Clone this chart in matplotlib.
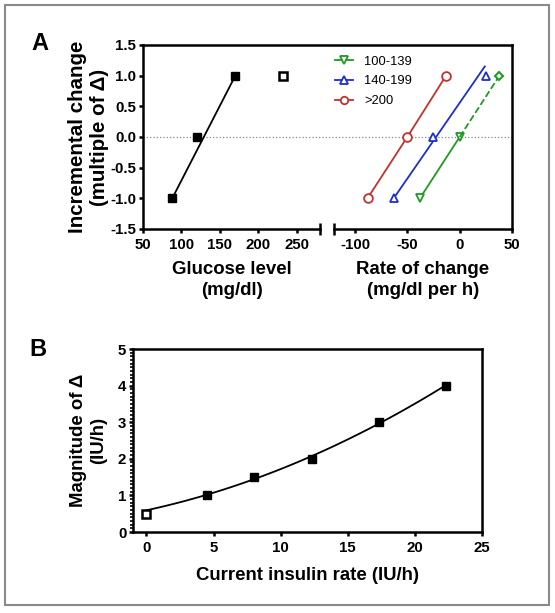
import matplotlib.pyplot as plt
from matplotlib.patches import Rectangle
import numpy as np

plt.rcParams['font.family'] = ['Liberation Sans', 'DejaVu Sans']
plt.rcParams['axes.unicode_minus'] = False

# Panel A, left: glucose level
glucose = [88, 120, 170]
glucose_y = [-1, 0, 1]
glucose_fit_x = [88, 170]
glucose_fit_y = [-1, 1]
glucose_open = [232]
glucose_open_y = [1]

# Panel A, right: rate of change by glucose band
levels = [-1, 0, 1]
rate_100 = [-38, 0]
rate_100_y = [-1, 0]
rate_100_ext = [0, 38]
rate_100_ext_y = [0, 1]
rate_140 = [-63, -25, 25]
rate_140_fit_x = [-63, 24]
rate_140_fit_y = [-1, 1.15]
rate_200 = [-88, -50, -13]

# Panel B: magnitude of delta vs current insulin rate
insulin = [4.5, 8, 12.3, 17.3, 22.3]
magnitude = [1, 1.5, 2, 3, 4]
insulin_open = [0]
magnitude_open = [0.5]

c_green = '#1f9a22'
c_blue = '#1c2fd0'
c_red = '#c4322c'

W, H = 555, 613
fig = plt.figure(figsize=(W / 100, H / 100), dpi=100)


def box(x0, y0, x1, y1):
    return [x0 / W, 1 - y1 / H, (x1 - x0) / W, (y1 - y0) / H]


lw = 1.8
tick_kw = dict(direction='out', width=lw, length=2.8, pad=2, labelsize=10.8)
lab_kw = dict(fontsize=13.4, fontweight='bold', linespacing=1.3)

# outer gray frame
fig.patches.append(Rectangle((5 / W, 1 - 605 / H), 544 / W, 600 / H, transform=fig.transFigure,
                             fill=False, edgecolor='#8a8a8a', linewidth=1.5))

# ---- panel A background frame
bg = fig.add_axes(box(143, 45, 512, 229))
bg.set_ylim(-1.5, 1.5)
bg.set_xticks([])
bg.set_yticks([])
bg.spines['bottom'].set_visible(False)
bg.spines['left'].set_visible(False)
for s in ('top', 'right'):
    bg.spines[s].set_linewidth(lw)
bg.axhline(0, color='#888888', linestyle=':', linewidth=0.9)

axl = fig.add_axes(box(143, 45, 320, 229))
axr = fig.add_axes(box(334, 45, 512, 229))
for a in (axl, axr):
    a.patch.set_visible(False)
    a.set_ylim(-1.5, 1.5)
    a.spines['top'].set_visible(False)
    a.spines['right'].set_visible(False)
    a.spines['bottom'].set_linewidth(lw)
    a.spines['left'].set_linewidth(lw)
    a.tick_params(**tick_kw)
    a.tick_params(axis='x', pad=3.5)

axl.set_xlim(50, 280)
axl.set_xticks([50, 100, 150, 200, 250])
axl.set_yticks(np.arange(-1.5, 1.51, 0.5))
axl.set_yticklabels([f'{v:.1f}' for v in np.arange(-1.5, 1.51, 0.5)], fontweight='bold')
axl.set_xticklabels(['50', '100', '150', '200', '250'], fontweight='bold')
axl.plot(glucose_fit_x, glucose_fit_y, color='black', linewidth=1.3)
axl.plot(glucose, glucose_y, 's', color='black', markersize=5.2)
axl.plot(glucose_open, glucose_open_y, 's', color='black', markerfacecolor='white',
         markeredgewidth=1.8, markersize=5.2, clip_on=False)
axl.plot([1], [0], marker='|', color='black', markersize=9, markeredgewidth=lw,
         transform=axl.transAxes, clip_on=False)
axl.set_xlabel('Glucose level\n(mg/dl)', labelpad=7, **lab_kw)
axl.set_ylabel('Incremental change\n(multiple of Δ)', labelpad=1, fontsize=14.8,
               fontweight='bold', linespacing=1.22)

axr.spines['left'].set_visible(False)
axr.set_yticks([])
axr.set_xlim(-120, 50)
axr.set_xticks([-100, -50, 0, 50])
axr.set_xticklabels(['-100', '-50', '0', '50'], fontweight='bold')
axr.plot([0], [0], marker='|', color='black', markersize=9, markeredgewidth=lw,
         transform=axr.transAxes, clip_on=False)

mk = dict(markersize=6.3, markerfacecolor='white', markeredgewidth=1.3, linewidth=1.3)
h1, = axr.plot(rate_100, rate_100_y, 'v-', color=c_green, label='100-139', **mk)
axr.plot(rate_100_ext, rate_100_ext_y, '--', color=c_green, linewidth=1.3)
axr.plot(rate_100_ext[-1:], rate_100_ext_y[-1:], 'D', color=c_green, markersize=4,
         markerfacecolor='white', markeredgewidth=1.5)
axr.plot(rate_140_fit_x, rate_140_fit_y, '-', color=c_blue, linewidth=1.3)
axr.plot(rate_140, levels, '^', color=c_blue, markersize=6.3, markerfacecolor='white',
         markeredgewidth=1.3)
h2, = axr.plot([], [], '^-', color=c_blue, label='140-199', **mk)
h3, = axr.plot(rate_200, levels, 'o-', color=c_red, label='>200', **mk)
axr.legend(handles=[h1, h2, h3], loc='upper left', bbox_to_anchor=(323 / W, 1 - 44 / H),
           bbox_transform=fig.transFigure, frameon=False, fontsize=9.3, handlelength=1.4,
           handletextpad=0.9, labelspacing=0.6, markerscale=0.85)
axr.set_xlabel('Rate of change\n(mg/dl per h)', labelpad=7, **lab_kw)

# ---- panel B
axb = fig.add_axes(box(133, 349, 482, 532))
axb.set_xlim(-1, 25)
axb.set_ylim(0, 5)
for s in axb.spines.values():
    s.set_linewidth(lw)
axb.tick_params(**tick_kw)
axb.tick_params(axis='x', pad=3.5)
axb.tick_params(axis='y', which='minor', direction='out', width=1.2, length=2.2)
axb.set_xticks([0, 5, 10, 15, 20, 25])
axb.set_yticks([0, 1, 2, 3, 4, 5])
axb.set_yticks(np.arange(0, 5.01, 0.1), minor=True)
axb.set_xticklabels(['0', '5', '10', '15', '20', '25'], fontweight='bold')
axb.set_yticklabels(['0', '1', '2', '3', '4', '5'], fontweight='bold')
coef = np.polyfit(insulin, magnitude, 2)
xs = np.linspace(0, insulin[-1], 100)
axb.plot(xs, np.polyval(coef, xs), color='black', linewidth=1.3)
axb.plot(insulin, magnitude, 's', color='black', markersize=5.5)
axb.plot(insulin_open, magnitude_open, 's', color='black', markerfacecolor='white',
         markeredgewidth=1.8, markersize=5.5)
axb.set_xlabel('Current insulin rate (IU/h)', labelpad=9, **lab_kw)
axb.set_ylabel('Magnitude of Δ\n(IU/h)', labelpad=7.5, **lab_kw)

fig.text(40 / W, 1 - 43 / H, 'A', fontsize=17, fontweight='bold', ha='center', va='center')
fig.text(38 / W, 1 - 349 / H, 'B', fontsize=17, fontweight='bold', ha='center', va='center')

fig.savefig('out.png', dpi=100)
